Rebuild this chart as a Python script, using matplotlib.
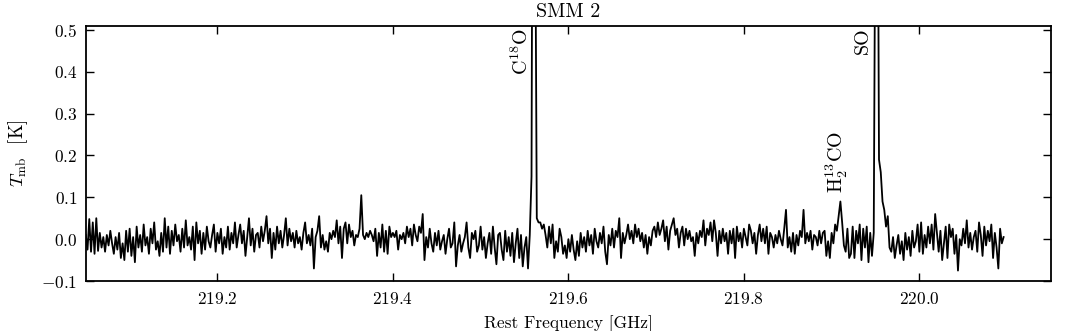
import numpy as np
import matplotlib
matplotlib.use("Agg")
import matplotlib.pyplot as plt

# channel grid of the spectrum (GHz)
freq_start = 219.05
chan_width = 0.002

# T_mb in mK
tmb_mk = [
	# 219.05 - 219.224
	10, -25, 48, -30, 40, -35, 50, -28, 15, -20, 5, -30, 10, -15, 20, -10, -35, 5, -25, 15,
	-45, -10, -50, 20, -30, 25, -40, 5, -55, 30, -20, 10, -30, 35, -15, 5, -35, 25, -10, 40,
	-25, -5, -40, 15, -30, 50, -20, 30, -35, 20, -15, 35, -5, 10, -30, 25, -20, 45, -15, 5,
	-25, 30, -50, 40, -10, 20, -35, 15, -25, 30, -5, -20, 10, 35, -30, 15, -10, 25, -35, 5,
	-20, 30, -25, 15, -10, 40, -20, 10,
	# 219.226 - 219.398
	35, -10, 20, -40, 5, 50, -15, 25, -30, 10, 15, -20, 30, -5, 20, 55, -10, 25, -45, 15,
	-25, 30, -10, 20, -20, 10, 50, -15, 25, -5, 15, -20, 20, -10, 5, -25, 15, 40, -10, 10,
	-15, 25, -70, 5, 20, 55, -20, 10, -25, -5, -30, 15, 0, 20, 5, 45, -10, 30, -45, 25,
	40, -10, 35, 5, 20, -15, 10, 5, 25, 105, 10, 0, 15, 5, 20, 10, -5, 25, -40, 15,
	-20, 35, -30, 20, -35, 30, 5,
	# 219.400 - 219.554
	15, 5, 20, -25, 10, 0, 15, -10, 30, 5, 25, -15, 35, 10, -5, 30, 15, 60, -50, 5,
	-20, 25, -10, -30, 15, -15, 20, -25, -5, 10, -35, 0, 25, -20, -10, 40, -65, -15, 10, -30,
	-10, 5, 40, -20, -45, 15, 0, 20, -30, -15, 30, -25, 5, -45, -10, 15, -35, 30, -20, -60,
	10, 15, -25, -50, 20, -30, 5, -40, 15, -55, -10, 25, -45, 10, -65, -20, 5, -70,
	# C18O line
	10, 150, 1600, 900, 50, 40,
	# 219.568 - 219.740
	40, 25, 35, 10, -20, 30, -10, 35, -45, -5, -30, 25, 5, -35, -15, -45, 0, -30, 10, -25,
	-50, -5, -40, 15, -20, 5, -30, 20, -15, 10, -35, 25, -5, -20, 15, -10, 30, -30, -60, 10,
	-15, 25, -20, 20, 5, 50, -45, 15, -10, 10, 35, 0, 20, -10, 35, 5, 25, -5, 15, -20,
	10, -35, 5, -15, 20, 30, 5, 40, 10, 25, 45, -5, 30, -25, 20, 35, 50, 10, 25, -20,
	15, 30, -15, 25, 0, 20, -5,
	# 219.742 - 219.900
	5, -40, 15, -10, 20, 5, 45, -15, 25, 10, 40, -5, 45, 15, -40, 20, -10, 25, -5, 15,
	-35, 20, -10, 25, -45, 30, -5, 15, -20, 25, 5, -15, 35, 20, -10, 15, -35, 10, 35, -5,
	25, -10, 30, -35, 15, 5, -20, 10, -10, 20, 0, -15, 25, 70, -20, 5, -30, 15, -35, 10,
	-15, 20, 5, 70, -10, 15, -5, 20, -25, 10, 5, -15, 20, -10, 15, 20, -40, -5, -45, 15,
	# H2 13CO line and baseline up to SO
	-10, 35, 20, 55, 90, 40, -15, -30, 25, -45, -35, 30, -45, 20, -10, 35, -50, 25, -20, 30,
	-55, 15, -40,
	# SO line with red wing
	15, 900, 1200, 190, 160, 90, 70, 30, 55, -20,
	# 219.968 - 220.096
	-30, 5, -45, -15, 10, -35, -5, -50, 15, -25, 5, -40, 20, -20, -5, 35, -30, 40, -35, 10,
	-20, 30, -10, 35, -25, 60, 15, -30, 20, -50, -10, 30, -45, 35, 5, 25, -35, 10, -75, 0,
	-15, 25, -10, 45, -20, 15, -25, 5, 20, -30, 40, 10, -40, 30, -15, 20, -5, 35, -45, 15,
	-20, -70, 25, -10, 5,
]

line_names = ["C$^{18}$O", "H$_2^{13}$CO", "SO"]
line_freqs = [219.5604, 219.9085, 219.9494]

plt.rcParams["font.family"] = "serif"
plt.rcParams["font.serif"] = ["cmr10"]
plt.rcParams["mathtext.fontset"] = "cm"
plt.rcParams["axes.formatter.use_mathtext"] = True
plt.rcParams["font.size"] = 12.5

tmb = np.array(tmb_mk) / 1000.0
freq = freq_start + chan_width * np.arange(len(tmb))

fig = plt.figure(figsize=(10.72, 3.31), dpi=100)
ax = fig.add_axes([0.080, 0.151, 0.9004, 0.7714])

ax.plot(freq, tmb, color="black", lw=1.3)

ax.set_xlim(219.05, 220.15)
ax.set_ylim(-0.1, 0.51)
ax.set_xticks([219.2, 219.4, 219.6, 219.8, 220.0])
ax.set_yticks([-0.1, 0.0, 0.1, 0.2, 0.3, 0.4, 0.5])
ax.tick_params(direction="in", top=True, right=True, length=5.5, width=1.0, labelsize=12.5)
ax.tick_params(axis="x", pad=7)
ax.tick_params(axis="y", pad=6)
for s in ax.spines.values():
	s.set_linewidth(1.3)

ax.set_xlabel("Rest Frequency [GHz]", labelpad=6)
ax.set_ylabel(r"$T_{\rm mb}$  [K]", labelpad=8, fontsize=13.5)
ax.set_title("SMM 2", fontsize=14.4, pad=6)

# molecule labels next to the lines
ax.text(line_freqs[0] - 0.002, 0.505, line_names[0], rotation=90, ha="right", va="top", fontsize=14.4)
ax.text(line_freqs[1] + 0.012, 0.11, line_names[1], rotation=90, ha="right", va="bottom", fontsize=14.4)
ax.text(line_freqs[2] - 0.003, 0.507, line_names[2], rotation=90, ha="right", va="top", fontsize=14.4)

fig.savefig("out.png", dpi=100)
